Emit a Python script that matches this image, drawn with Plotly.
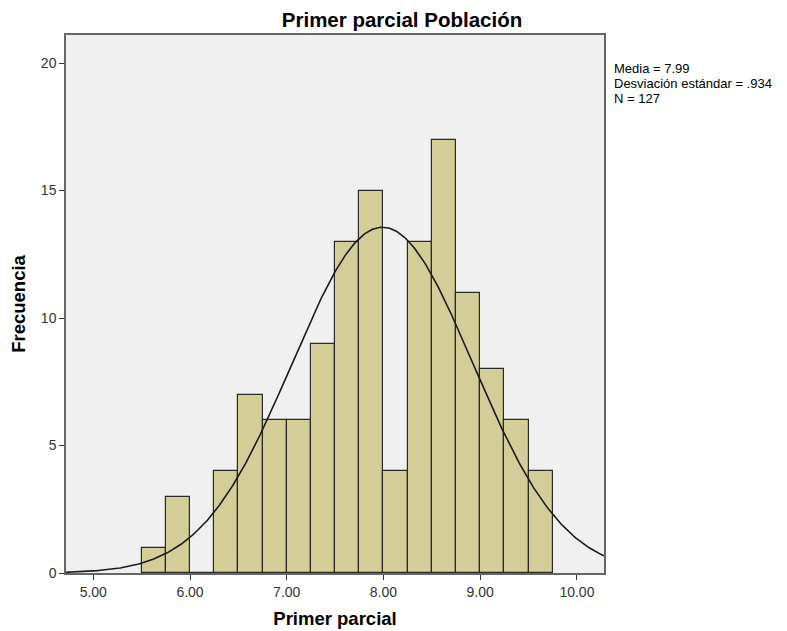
import numpy as np
import plotly.graph_objects as go

# Data
bin_left = [5.50, 5.75, 6.00, 6.25, 6.50, 6.75, 7.00, 7.25, 7.50, 7.75,
            8.00, 8.25, 8.50, 8.75, 9.00, 9.25, 9.50]
counts = [1, 3, 0, 4, 7, 6, 6, 9, 13, 15, 4, 13, 17, 11, 8, 6, 4]
bin_width = 0.25
mean = 7.99
sd = 0.934
n = 127
x_ticks = [5, 6, 7, 8, 9, 10]
x_tick_labels = ["5.00", "6.00", "7.00", "8.00", "9.00", "10.00"]
y_ticks = [0, 5, 10, 15, 20]
stats_lines = ["Media = 7.99", "Desviación estándar = .934", "N = 127"]

x_range = [4.718, 10.28]
y_range = [0, 21.1]

centers = [b + bin_width / 2 for b in bin_left]

xs = np.linspace(x_range[0], x_range[1], 400)
ys = n * bin_width / (sd * np.sqrt(2 * np.pi)) * np.exp(-0.5 * ((xs - mean) / sd) ** 2)

# page body has an 8px margin; compensate so the plot lands where the reference has it
OFF = 8
W, H = 787 - OFF, 631 - OFF
ML, MR, MT, MB = 66 - OFF, 183, 35 - OFF, 58
plot_h = H - MT - MB

fig = go.Figure()
fig.add_trace(go.Bar(
    x=centers, y=counts, width=bin_width,
    marker=dict(color="#D3CE97", line=dict(color="#2a2a2a", width=1.2)),
    hoverinfo="x+y", showlegend=False,
))
fig.add_trace(go.Scatter(
    x=xs, y=ys, mode="lines",
    line=dict(color="#1a1a1a", width=1.6),
    showlegend=False, hoverinfo="skip",
))

font_family = "Liberation Sans, Arial, sans-serif"

annotations = []
for i, line in enumerate(stats_lines):
    yc = 69 + i * 14.5 - OFF
    annotations.append(dict(
        xref="paper", yref="paper",
        x=1.0, y=1 - (yc - MT) / plot_h,
        xshift=8,
        xanchor="left", yanchor="middle",
        align="left", showarrow=False,
        text=line,
        font=dict(size=13, color="#000000", family=font_family),
    ))

fig.update_layout(
    width=W, height=H,
    margin=dict(l=ML, r=MR, t=MT, b=MB),
    paper_bgcolor="white",
    plot_bgcolor="#F0F0F0",
    bargap=0,
    font=dict(family=font_family, color="#333333", size=14),
    title=dict(
        text="<b>Primer parcial Población</b>",
        x=(402 - OFF) / W, xanchor="center",
        y=1 - (20 - OFF) / H, yanchor="middle",
        font=dict(size=20.5, color="#000000", family=font_family),
    ),
    xaxis=dict(
        range=x_range, automargin=False,
        tickvals=x_ticks, ticktext=x_tick_labels,
        ticks="outside", ticklen=5, tickcolor="#333333", tickwidth=1,
        showgrid=False, zeroline=False,
        showline=True, linecolor="#666666", linewidth=1.5, mirror=True,
        tickfont=dict(size=14, color="#333333"),
        title=dict(text="<b>Primer parcial</b>", standoff=14,
                   font=dict(size=18.5, color="#000000")),
    ),
    yaxis=dict(
        range=y_range, automargin=False,
        tickvals=y_ticks,
        ticks="outside", ticklen=5, tickcolor="#333333", tickwidth=1,
        showgrid=False, zeroline=False,
        showline=True, linecolor="#666666", linewidth=1.5, mirror=True,
        tickfont=dict(size=14, color="#333333"),
        title=dict(text="<b>Frecuencia</b>", standoff=14,
                   font=dict(size=18.5, color="#000000")),
    ),
    annotations=annotations,
)

fig.write_html("out.html")
